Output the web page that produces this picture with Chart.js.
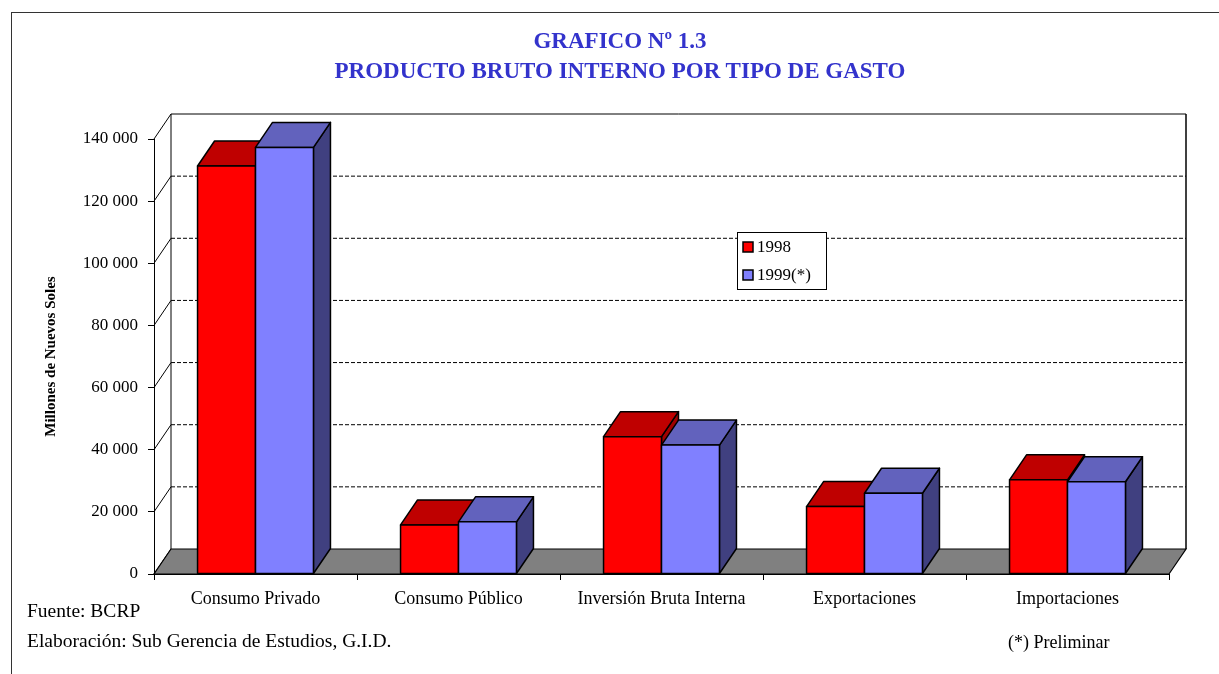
<!DOCTYPE html>
<html>
<head>
<meta charset="utf-8">
<script src="https://cdn.jsdelivr.net/npm/chart.js@4/dist/chart.umd.min.js"></script>
<style>
  html, body { margin: 0; padding: 0; background: #fff; }
  #wrap { position: relative; width: 1219px; height: 674px; overflow: hidden; font-family: 'Liberation Serif', serif; }
  #frame { position: absolute; left: 11px; top: 12px; width: 1300px; height: 700px; border-left: 1.5px solid #333; border-top: 1.5px solid #333; }
  canvas { position: absolute; left: 0; top: 0; }
  .t { position: absolute; white-space: nowrap; }
  .title { left: 0; width: 1240px; text-align: center; color: #3333cc; font-weight: bold; font-size: 23px; }
  .note { font-size: 19.5px; color: #000; }
</style>
</head>
<body>
<div id="wrap">
  <div id="frame"></div>
  <canvas id="myChart" width="1219" height="674"></canvas>
  <div class="t title" style="top:28px">GRAFICO Nº 1.3</div>
  <div class="t title" style="top:58px">PRODUCTO BRUTO INTERNO POR TIPO DE GASTO</div>
  <div class="t note" style="left:27px; top:600px">Fuente: BCRP</div>
  <div class="t note" style="left:27px; top:630px">Elaboración: Sub Gerencia de Estudios, G.I.D.</div>
  <div class="t note" style="left:1008px; top:632px; font-size:18px">(*) Preliminar</div>
</div>
<script>
// valores en millones de nuevos soles
let categorias = ['Consumo Privado','Consumo Público','Inversión Bruta Interna','Exportaciones','Importaciones'];
let gasto1998 = [131300, 15800, 44200, 21700, 30300];
let gasto1999 = [137300, 16800, 41500, 26000, 29700];
let serieNombres = ['1998','1999(*)'];
let yTicks = [0, 20000, 40000, 60000, 80000, 100000, 120000, 140000];

// profundidad del efecto 3D
const DX = 17, DY = 25;
const caras = [
  {front:'#ff0000', top:'#bf0000', side:'#a00000'},
  {front:'#8080ff', top:'#6262bd', side:'#404080'}
];

function fmt(v){ return String(v).replace(/\B(?=(\d{3})+(?!\d))/g, ' '); }

const fondo3d = {
  id: 'fondo3d',
  beforeDatasetsDraw(chart){
    const ctx = chart.ctx, y = chart.scales.y, a = chart.chartArea;
    const bl = a.left + DX, br = a.right + DX;
    ctx.save();
    // lineas de la pared del fondo
    ctx.strokeStyle = '#000';
    ctx.lineWidth = 1;
    yTicks.forEach(v => {
      const py = y.getPixelForValue(v);
      ctx.setLineDash([]);
      ctx.beginPath(); ctx.moveTo(a.left, py); ctx.lineTo(bl, py - DY); ctx.stroke();
      if (v > 0) {
        ctx.setLineDash(v === yTicks[yTicks.length-1] ? [] : [4, 2]);
        ctx.beginPath(); ctx.moveTo(bl, py - DY); ctx.lineTo(br, py - DY); ctx.stroke();
      }
    });
    ctx.setLineDash([]);
    const top = y.getPixelForValue(yTicks[yTicks.length-1]) - DY;
    const bot = a.bottom - DY;
    ctx.beginPath(); ctx.moveTo(bl, top); ctx.lineTo(bl, bot); ctx.stroke();
    ctx.lineWidth = 1.5;
    ctx.beginPath(); ctx.moveTo(br, top); ctx.lineTo(br, bot); ctx.stroke();
    // piso
    ctx.lineWidth = 1.2;
    ctx.fillStyle = '#808080';
    ctx.beginPath();
    ctx.moveTo(a.left, a.bottom); ctx.lineTo(a.right, a.bottom);
    ctx.lineTo(br, bot); ctx.lineTo(bl, bot); ctx.closePath();
    ctx.fill(); ctx.stroke();
    ctx.restore();
  },
  afterDatasetsDraw(chart){
    const ctx = chart.ctx;
    ctx.save();
    ctx.strokeStyle = '#000';
    ctx.lineWidth = 1.5;
    ctx.lineJoin = 'round';
    categorias.forEach((c, i) => {
      chart.data.datasets.forEach((ds, d) => {
        const el = chart.getDatasetMeta(d).data[i];
        const l = el.x - el.width/2, r = el.x + el.width/2, t = el.y, b = el.base;
        const col = caras[d];
        // costado
        ctx.fillStyle = col.side;
        ctx.beginPath();
        ctx.moveTo(r, t); ctx.lineTo(r+DX, t-DY); ctx.lineTo(r+DX, b-DY); ctx.lineTo(r, b); ctx.closePath();
        ctx.fill(); ctx.stroke();
        // tapa
        ctx.fillStyle = col.top;
        ctx.beginPath();
        ctx.moveTo(l, t); ctx.lineTo(l+DX, t-DY); ctx.lineTo(r+DX, t-DY); ctx.lineTo(r, t); ctx.closePath();
        ctx.fill(); ctx.stroke();
        // frente
        ctx.fillStyle = col.front;
        ctx.fillRect(l, t, r-l, b-t);
        ctx.strokeRect(l, t, r-l, b-t);
      });
    });
    ctx.restore();
  },
  afterDraw(chart){
    // leyenda
    const ctx = chart.ctx;
    const x0 = 737, y0 = 232, w = 89, h = 57;
    ctx.save();
    ctx.fillStyle = '#fff';
    ctx.fillRect(x0, y0, w, h);
    ctx.strokeStyle = '#000';
    ctx.lineWidth = 1;
    ctx.strokeRect(x0 + 0.5, y0 + 0.5, w, h);
    ctx.font = '17px "Liberation Serif"';
    ctx.textBaseline = 'middle';
    chart.data.datasets.forEach((ds, d) => {
      const cy = y0 + 15 + d * 28;
      ctx.fillStyle = ds.backgroundColor;
      ctx.fillRect(x0 + 6, cy - 5, 10, 10);
      ctx.lineWidth = 1.5;
      ctx.strokeRect(x0 + 6, cy - 5, 10, 10);
      ctx.fillStyle = '#000';
      ctx.fillText(ds.label, x0 + 20, cy + 1);
    });
    ctx.restore();
  }
};

let myChart = document.getElementById('myChart').getContext('2d');
let pbiChart = new Chart(myChart, {
  type: 'bar',
  data: {
    labels: categorias,
    datasets: [
      { label: serieNombres[0], data: gasto1998, backgroundColor: caras[0].front, borderColor: '#000', borderWidth: 1.5, borderSkipped: false },
      { label: serieNombres[1], data: gasto1999, backgroundColor: caras[1].front, borderColor: '#000', borderWidth: 1.5, borderSkipped: false }
    ]
  },
  options: {
    responsive: false,
    animation: false,
    layout: { padding: { left: 40, top: 139, right: 50, bottom: 60 } },
    categoryPercentage: 0.571,
    barPercentage: 1,
    plugins: { legend: { display: false }, tooltip: { enabled: false } },
    scales: {
      x: {
        afterFit(s){ s.height = 40; },
        grid: { offset: true, drawOnChartArea: false, drawTicks: true, tickLength: 6, color: '#000' },
        border: { display: true, color: '#000', width: 1 },
        ticks: { color: '#000', padding: 8, maxRotation: 0, autoSkip: false, font: { family: 'Liberation Serif', size: 18 } }
      },
      y: {
        min: 0, max: 140000,
        afterFit(s){ s.width = 114; },
        afterBuildTicks(s){ s.ticks = yTicks.map(v => ({ value: v })); },
        grid: { drawOnChartArea: false, drawTicks: true, tickLength: 6, color: '#000' },
        border: { display: true, color: '#000', width: 1 },
        ticks: { color: '#000', padding: 10, callback: v => fmt(v), font: { family: 'Liberation Serif', size: 17 } },
        title: { display: true, text: 'Millones de Nuevos Soles', color: '#000', padding: { top: 2, bottom: 4 }, font: { family: 'Liberation Serif', size: 15, weight: 'bold' } }
      }
    }
  },
  plugins: [fondo3d]
});
</script>
</body>
</html>
